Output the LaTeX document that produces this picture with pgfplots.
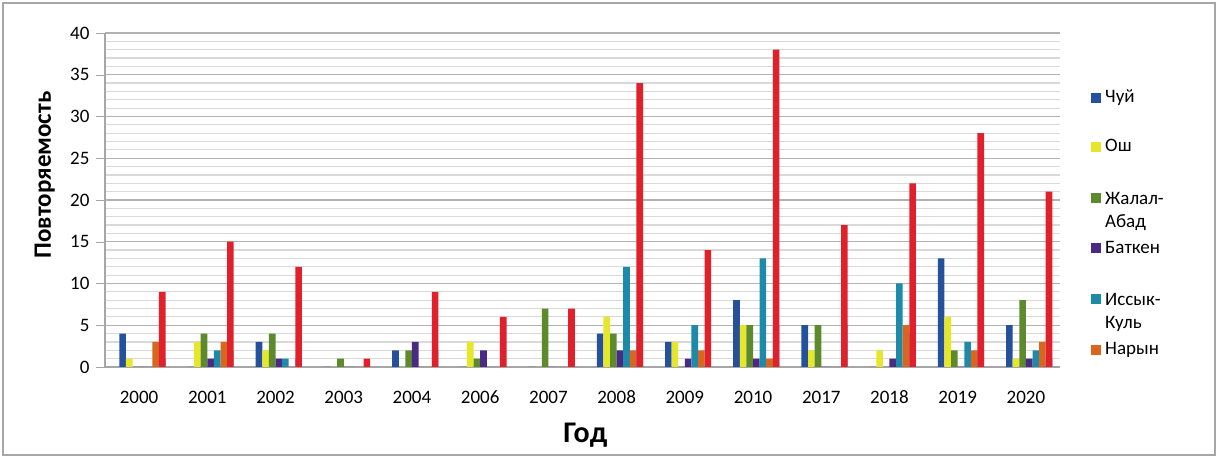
\documentclass[border=0pt]{standalone}
\usepackage{pgfplots}
\pgfplotsset{compat=1.18}
\usepackage{pgfplotstable}
\usepackage{fontspec}
\setmainfont{Carlito}
\definecolor{cChuy}{HTML}{24509C}
\definecolor{cOsh}{HTML}{E6E62A}
\definecolor{cJal}{HTML}{5C8A2C}
\definecolor{cBat}{HTML}{4A2A84}
\definecolor{cIss}{HTML}{1E8AAA}
\definecolor{cNar}{HTML}{D9661F}
\definecolor{cTal}{HTML}{6C90CA}
\definecolor{cTot}{HTML}{E0202A}
\pgfplotstableread{
x Chuy Osh Jal Bat Iss Nar Tal Tot
0 4 1 0 0 0 3 1 9
1 0 3 4 1 2 3 2 15
2 3 2 4 1 1 0 1 12
3 0 0 1 0 0 0 0 1
4 2 0 2 3 0 0 2 9
5 0 3 1 2 0 0 0 6
6 0 0 7 0 0 0 0 7
7 4 6 4 2 12 2 4 34
8 3 3 0 1 5 2 0 14
9 8 5 5 1 13 1 5 38
10 5 2 5 0 0 0 5 17
11 0 2 0 1 10 5 4 22
12 13 6 2 0 3 2 2 28
13 5 1 8 1 2 3 1 21
}\data
\begin{document}
\begin{tikzpicture}
\useasboundingbox (-52.5pt,-46pt) rectangle (559.5pt,183.5pt);
\draw[gray!70, line width=0.6pt] (-51pt,-44pt) rectangle (555pt,182pt);
\begin{axis}[
  scale only axis,
  width=477.5pt, height=167pt,
  ybar=0pt, bar width=3.3pt,
  xmin=-0.5, xmax=13.5,
  ymin=0, ymax=40,
  xtick=data,
  xticklabels={2000,2001,2002,2003,2004,2006,2007,2008,2009,2010,2017,2018,2019,2020},
  ytick={0,5,...,40},
  minor y tick num=4,
  ymajorgrids, yminorgrids,
  major grid style={gray!60, line width=0.6pt},
  minor grid style={gray!30, line width=0.6pt},
  axis x line*=bottom, axis y line*=left,
  axis line style={gray!70, line width=0.6pt},
  x tick style={draw=none},
  y tick style={gray!70},
  minor y tick style={draw=none},
  tick align=outside,
  /pgf/number format/assume math mode=true,
  ticklabel style={font=\fontsize{9.5}{11}\selectfont},
  xticklabel style={anchor=base, yshift=-14pt},
  ylabel={Повторяемость},
  ylabel style={at={(axis description cs:-0.063,0.575)}, anchor=center, font=\fontsize{12.5}{15}\selectfont\bfseries},
  xlabel={Год},
  xlabel style={at={(axis description cs:0.503,-0.204)}, anchor=center, font=\fontsize{15}{18}\selectfont\bfseries},
  legend style={draw=none, fill=none, at={(1.026,0.855)}, anchor=north west,
    font=\fontsize{9.5}{11.5}\selectfont, row sep=12.8pt},
  legend cell align=left,
  legend image code/.code={\fill[#1] (0pt,-2.5pt) rectangle (5pt,2.5pt);},
]
\addplot[fill=cChuy, draw=none] table[x=x,y=Chuy]{\data};
\addlegendentry{Чуй}
\addplot[fill=cOsh, draw=none] table[x=x,y=Osh]{\data};
\addlegendentry{Ош}
\addplot[fill=cJal, draw=none] table[x=x,y=Jal]{\data};
\addlegendentry{\begin{tabular}[t]{@{}l@{}}Жалал-\\Абад\end{tabular}}
\addplot[fill=cBat, draw=none] table[x=x,y=Bat]{\data};
\addlegendentry{Баткен}
\addplot[fill=cIss, draw=none] table[x=x,y=Iss]{\data};
\addlegendentry{\begin{tabular}[t]{@{}l@{}}Иссык-\\Куль\end{tabular}}
\addplot[fill=cNar, draw=none] table[x=x,y=Nar]{\data};
\addlegendentry{Нарын}
\addplot[fill=cTal, draw=none, forget plot] table[x=x,y=Tal]{\data};
\addplot[fill=cTot, draw=none, forget plot] table[x=x,y=Tot]{\data};
\end{axis}
\end{tikzpicture}
\end{document}
